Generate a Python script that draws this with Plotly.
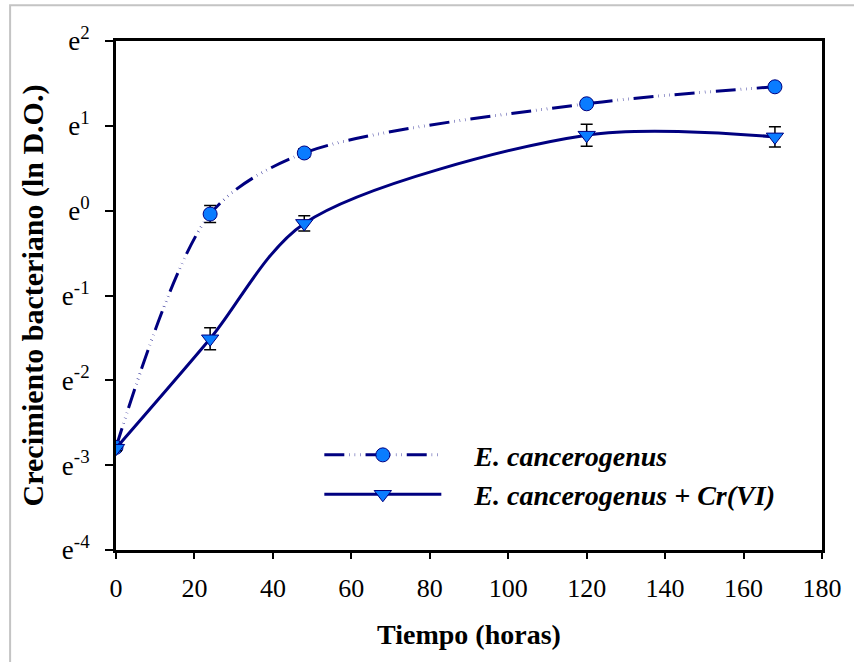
import plotly.graph_objects as go

# Sampling times (hours)
tiempo = [0, 24, 48, 120, 168]

# ln(O.D.) for E. cancerogenus alone
ln_do_control = [-2.79, -0.04, 0.68, 1.26, 1.46]
err_control = [0.02, 0.10, 0.05, 0.03, 0.03]

# ln(O.D.) for E. cancerogenus + Cr(VI)
ln_do_cr = [-2.80, -1.51, -0.15, 0.89, 0.87]
err_cr = [0.03, 0.13, 0.09, 0.13, 0.12]

y_ticks = [-4, -3, -2, -1, 0, 1, 2]
y_ticktext = [f"e<sup>{v}</sup>" for v in y_ticks]
x_ticks = [0, 20, 40, 60, 80, 100, 120, 140, 160, 180]

PAD = "\u00a0" * 4
label_control = PAD + "<b><i>E. cancerogenus</i></b>"
label_cr = PAD + "<b><i>E. cancerogenus + Cr(VI)</i></b>"

NAVY = "#000080"
FILL = "#0A7CFF"
SERIF = "Liberation Serif, Times New Roman, serif"

fig = go.Figure()

fig.add_trace(go.Scatter(
    x=tiempo, y=ln_do_control, name=label_control,
    mode="lines+markers",
    line=dict(color=NAVY, width=3, shape="spline", smoothing=0.85,
              dash="20px,5px,0.4px,5px,0.4px,5px,0.4px,5px"),
    marker=dict(symbol="circle", size=14, color=FILL,
                line=dict(color=NAVY, width=1)),
    error_y=dict(type="data", array=err_control, color="black",
                 thickness=1.5, width=6),
))

fig.add_trace(go.Scatter(
    x=tiempo, y=ln_do_cr, name=label_cr,
    mode="lines+markers",
    line=dict(color=NAVY, width=3, shape="spline", smoothing=0.85),
    marker=dict(symbol="triangle-down", size=15, color=FILL,
                line=dict(color=NAVY, width=1)),
    error_y=dict(type="data", array=err_cr, color="black",
                 thickness=1.5, width=6),
))

# light grey frame around the whole chart area
fig.add_shape(type="rect", xref="paper", yref="paper",
              x0=-0.150, x1=1.25, y0=-0.35, y1=1.070,
              line=dict(color="#c4c4c4", width=2), layer="below")

fig.update_layout(
    width=854, height=662,
    margin=dict(l=116, r=32, t=41, b=112),
    paper_bgcolor="white", plot_bgcolor="white",
    font=dict(family=SERIF, size=26, color="black"),
    showlegend=True,
    legend=dict(
        x=0.288, y=0.148, xanchor="left", yanchor="middle",
        bgcolor="rgba(0,0,0,0)", borderwidth=0,
        font=dict(family=SERIF, size=28, color="black"),
        itemwidth=117, tracegroupgap=0,
    ),
    xaxis=dict(
        range=[0, 180], tickvals=x_ticks, ticks="outside", ticklen=6,
        tickwidth=2, tickcolor="black", showline=True, linewidth=3,
        linecolor="black", mirror=True, showgrid=False, zeroline=False,
        tickfont=dict(family=SERIF, size=26), ticklabelstandoff=7,
        title=dict(text="<b>Tiempo (horas)</b>", standoff=23,
                   font=dict(family=SERIF, size=28)),
    ),
    yaxis=dict(
        range=[-4, 2], tickvals=y_ticks, ticktext=y_ticktext,
        ticks="outside", ticklen=8, tickwidth=2, tickcolor="black",
        showline=True, linewidth=3, linecolor="black", mirror=True,
        showgrid=False, zeroline=False,
        tickfont=dict(family=SERIF, size=27), ticklabelstandoff=10,
        title=dict(text="<b>Crecimiento bacteriano (ln D.O.)</b>",
                   standoff=10, font=dict(family=SERIF, size=30)),
    ),
)

fig.write_html("out.html")
